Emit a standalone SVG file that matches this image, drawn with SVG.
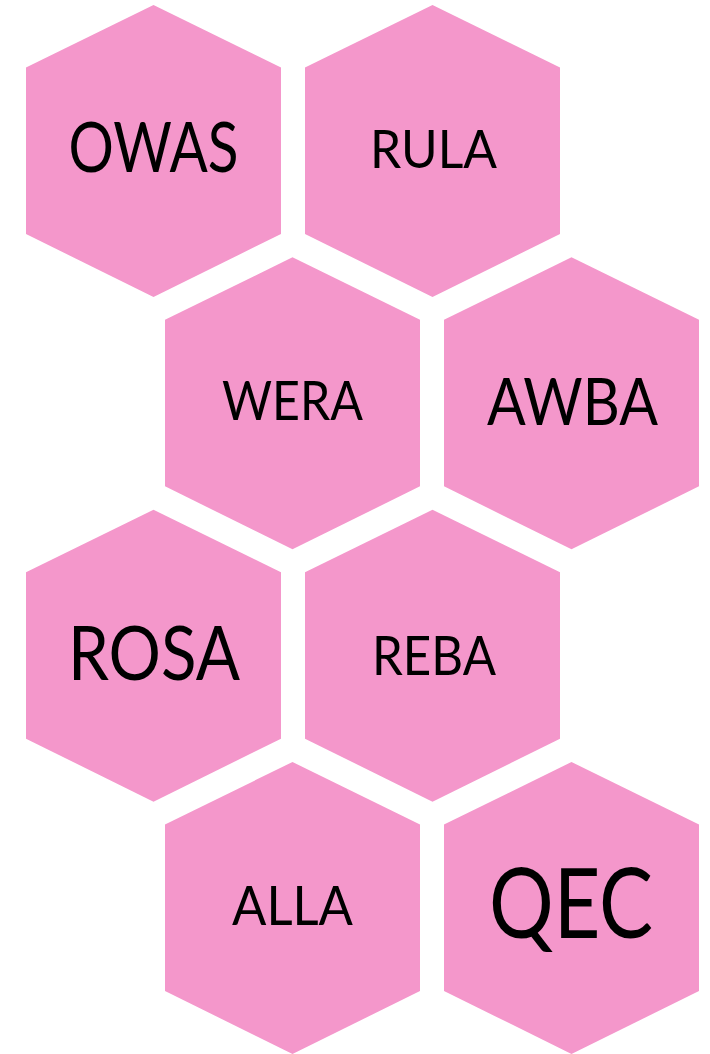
<svg xmlns="http://www.w3.org/2000/svg" width="710" height="1054" viewBox="0 0 710 1054">
<defs>
<style>
.hex{fill:#F497CB}
.lbl{font-family:Lato,"Liberation Sans",sans-serif;fill:#000;text-anchor:middle}
</style>
<polygon id="hx" points="0,0 127.5,62.5 127.5,229 0,292 -127.5,229 -127.5,62.5"/>
</defs>
<rect width="710" height="1054" fill="#fff"/>
<g id="n-owas"><use href="#hx" class="hex" x="153.5" y="5"/><text class="lbl" x="153.5" y="172" font-size="70" textLength="170" lengthAdjust="spacingAndGlyphs">OWAS</text></g>
<g id="n-rula"><use href="#hx" class="hex" x="432.5" y="5"/><text class="lbl" x="433.5" y="168" font-size="53" textLength="127" lengthAdjust="spacingAndGlyphs">RULA</text></g>
<g id="n-wera"><use href="#hx" class="hex" x="292.5" y="257.3"/><text class="lbl" x="292.5" y="420" font-size="55" textLength="141" lengthAdjust="spacingAndGlyphs">WERA</text></g>
<g id="n-awba"><use href="#hx" class="hex" x="571.5" y="257.3"/><text class="lbl" x="572.5" y="425" font-size="65" textLength="171" lengthAdjust="spacingAndGlyphs">AWBA</text></g>
<g id="n-rosa"><use href="#hx" class="hex" x="153.5" y="509.7"/><text class="lbl" x="154" y="680" font-size="76" textLength="172" lengthAdjust="spacingAndGlyphs">ROSA</text></g>
<g id="n-reba"><use href="#hx" class="hex" x="432.5" y="509.7"/><text class="lbl" x="434" y="675" font-size="55" textLength="124" lengthAdjust="spacingAndGlyphs">REBA</text></g>
<g id="n-alla"><use href="#hx" class="hex" x="292.5" y="762"/><text class="lbl" x="292.5" y="925" font-size="55" textLength="121" lengthAdjust="spacingAndGlyphs">ALLA</text></g>
<g id="n-qec"><use href="#hx" class="hex" x="571.5" y="762"/><text class="lbl" x="571" y="938" font-size="97" textLength="164" lengthAdjust="spacingAndGlyphs">QEC</text></g>
<g id="connectors"></g>
</svg>
